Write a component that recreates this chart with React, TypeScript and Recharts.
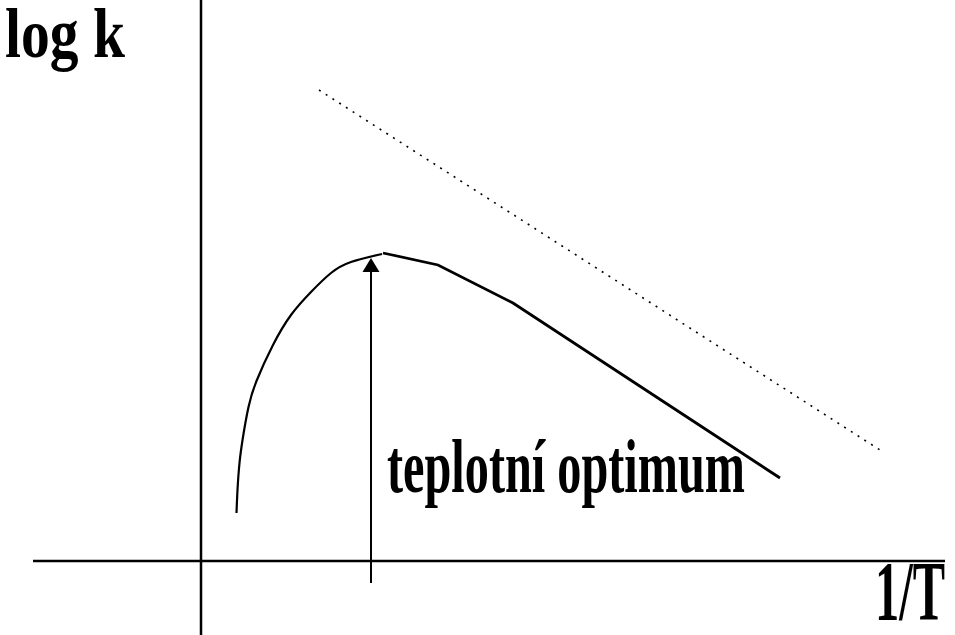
import React from "react";
import {
  LineChart,
  Line,
  XAxis,
  YAxis,
  ReferenceLine,
  ReferenceDot
} from "recharts";

// rising part of the curve (below the optimum)
const risingInvT = [0.355, 0.365, 0.385, 0.42, 0.475, 0.555, 0.72, 0.9, 1.1, 1.3, 1.5, 1.81];
const risingLogK = [0.48, 0.71, 0.98, 1.24, 1.54, 1.8, 2.16, 2.46, 2.69, 2.88, 2.99, 3.07];

// falling (Arrhenius) part after the optimum
const fallingInvT = [1.82, 2.37, 3.12, 5.79];
const fallingLogK = [3.08, 2.96, 2.58, 0.83];

// ideal Arrhenius line (dotted)
const idealInvT = [1.18, 6.79];
const idealLogK = [4.71, 1.11];

// optimum marker
const optimumInvT = 1.7;
const optimumLogK = 3.03;
const optimumLabel = "teplotní optimum";

const yLabel = "log k";
const xLabel = "1/T";

const toPoints = (xs: number[], ys: number[]) => xs.map((x, i) => ({ x, y: ys[i] }));

const rising = toPoints(risingInvT, risingLogK);
const falling = toPoints(fallingInvT, fallingLogK);
const ideal = toPoints(idealInvT, idealLogK);

const serif = "'Liberation Serif', 'Times New Roman', serif";

const textShape = (text: string, size: number, len: number) => (props: any) => (
  <text
    x={props.cx}
    y={props.cy}
    textLength={len}
    lengthAdjust="spacingAndGlyphs"
    style={{ fontFamily: serif, fontWeight: 700, fontSize: size, fill: "#000" }}
  >
    {text}
  </text>
);

const arrowHead = (props: any) => (
  <polygon
    points={`${props.cx},${props.cy} ${props.cx - 8.5},${props.cy + 14} ${props.cx + 8.5},${props.cy + 14}`}
    fill="#000"
  />
);

const App = () => {
  return (
    <div style={{ position: "absolute", left: 0, top: 0, background: "#fff" }}>
      <LineChart width={955} height={635} margin={{ top: 0, right: 0, bottom: 0, left: 0 }}>
        <XAxis type="number" dataKey="x" domain={[-2.01, 7.54]} allowDataOverflow hide />
        <YAxis type="number" dataKey="y" domain={[-0.74, 5.61]} allowDataOverflow hide />

        {/* axes */}
        <ReferenceLine segment={[{ x: -1.68, y: 0 }, { x: 7.44, y: 0 }]} stroke="#000" strokeWidth={2.5} ifOverflow="visible" />
        <ReferenceLine segment={[{ x: 0, y: 5.61 }, { x: 0, y: -0.74 }]} stroke="#000" strokeWidth={2.5} ifOverflow="visible" />

        <Line data={ideal} dataKey="y" type="linear" stroke="#000" strokeWidth={1.6} strokeDasharray="2 6" dot={false} activeDot={false} isAnimationActive={false} />
        <Line data={rising} dataKey="y" type="natural" stroke="#000" strokeWidth={2.2} dot={false} activeDot={false} isAnimationActive={false} />
        <Line data={falling} dataKey="y" type="linear" stroke="#000" strokeWidth={2.8} dot={false} activeDot={false} isAnimationActive={false} />

        {/* optimum arrow */}
        <ReferenceLine segment={[{ x: optimumInvT, y: -0.22 }, { x: optimumInvT, y: 2.92 }]} stroke="#000" strokeWidth={2} ifOverflow="visible" />
        <ReferenceDot x={optimumInvT} y={optimumLogK} r={0} shape={arrowHead} ifOverflow="visible" />

        {/* labels */}
        <ReferenceDot x={1.86} y={0.69} r={0} shape={textShape(optimumLabel, 76, 358)} ifOverflow="visible" />
        <ReferenceDot x={-1.96} y={5.04} r={0} shape={textShape(yLabel, 70, 120)} ifOverflow="visible" />
        <ReferenceDot x={6.74} y={-0.59} r={0} shape={textShape(xLabel, 84, 70)} ifOverflow="visible" />
      </LineChart>
    </div>
  );
};

export default App;
